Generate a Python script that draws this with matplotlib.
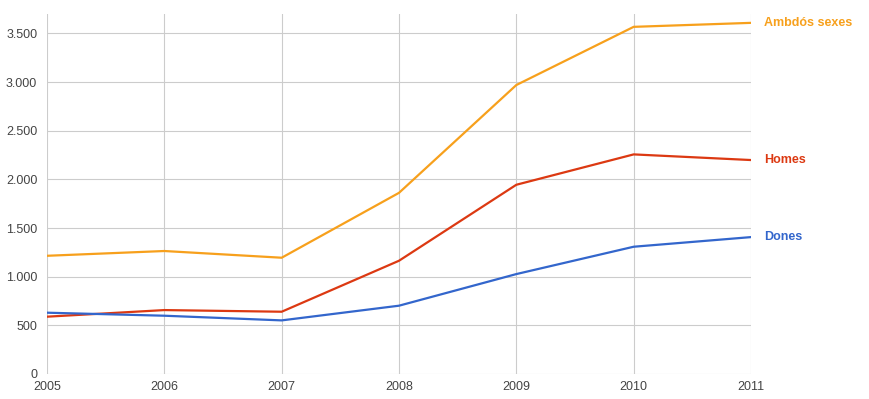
import matplotlib.pyplot as plt
from matplotlib.ticker import FuncFormatter

plt.rcParams['font.family'] = ['Liberation Sans', 'DejaVu Sans']

years = [2005, 2006, 2007, 2008, 2009, 2010, 2011]
ambdos = [1215, 1264, 1195, 1862, 2970, 3568, 3609]
homes = [589, 657, 640, 1164, 1945, 2257, 2199]
dones = [630, 599, 551, 702, 1027, 1308, 1407]

series = [
    ('Ambdós sexes', ambdos, '#f7a01c'),
    ('Homes', homes, '#dc3912'),
    ('Dones', dones, '#3366cc'),
]

fig = plt.figure(figsize=(8.69, 3.99), dpi=100)
ax = fig.add_axes([47 / 869, 1 - 374 / 399, (751 - 47) / 869, (374 - 14) / 399])

for name, vals, col in series:
    ax.plot(years, vals, color=col, lw=1.6, solid_joinstyle='miter', zorder=3)
    ax.annotate(name, xy=(years[-1], vals[-1]), xytext=(9.5, 0), textcoords='offset points',
                color=col, fontsize=9, fontweight='bold', va='center', ha='left',
                annotation_clip=False)

ax.set_xlim(2005, 2011)
ax.set_ylim(0, 3700)
ax.set_xticks(years)
ax.set_yticks(range(0, 3501, 500))
ax.yaxis.set_major_formatter(FuncFormatter(lambda v, p: f'{int(v):,}'.replace(',', '.')))

ax.grid(True, color='#cccccc', lw=0.8)
ax.set_axisbelow(True)
for s in ax.spines.values():
    s.set_visible(False)
ax.tick_params(length=0, labelsize=9, colors='#444444')
ax.tick_params(axis='y', pad=7)
ax.tick_params(axis='x', pad=5)

fig.savefig('out.png', dpi=100)
